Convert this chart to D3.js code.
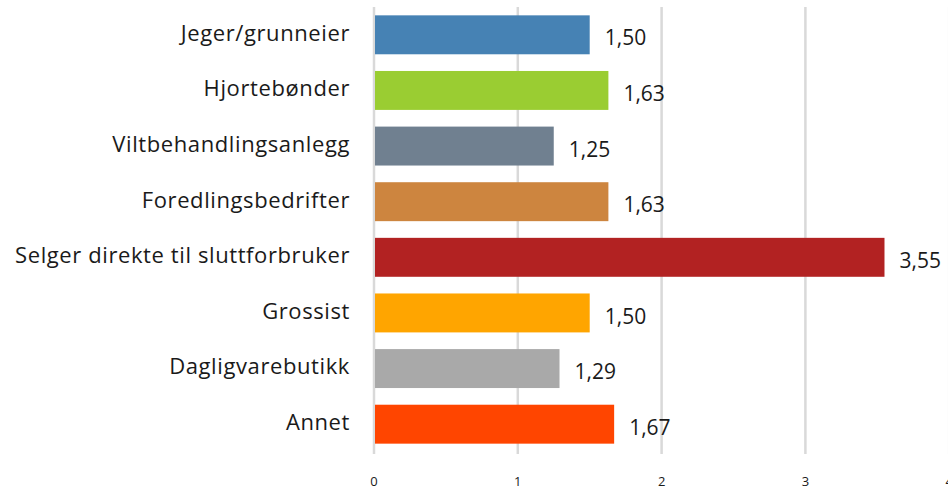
<!DOCTYPE html>
<html>
<head>
<meta charset="utf-8">
<script src="https://d3js.org/d3.v7.min.js"></script>
<style>
  body { margin: 0; background: #fff; }
  text { font-family: "Open Sans", sans-serif; fill: #1a1a1a; }
</style>
</head>
<body>
<div id="chart"></div>
<script>
// data
const categories = ["Jeger/grunneier", "Hjortebønder", "Viltbehandlingsanlegg", "Foredlingsbedrifter",
  "Selger direkte til sluttforbruker", "Grossist", "Dagligvarebutikk", "Annet"];
const values = [1.50, 1.63, 1.25, 1.63, 3.55, 1.50, 1.29, 1.67];
const barColors = ["#4682B4", "#9ACD32", "#708090", "#CD853F", "#B22222", "#FFA500", "#A9A9A9", "#FF4500"];
const xTicks = [0, 1, 2, 3, 4];

const width = 948, height = 494;
const margin = {top: 7, right: 0, bottom: 42, left: 374};

const svg = d3.select("#chart").append("svg")
  .attr("width", width)
  .attr("height", height);

const x = d3.scaleLinear().domain([0, 4]).range([margin.left, margin.left + 4 * 143.8]);
const y = d3.scaleBand().domain(categories)
  .range([margin.top, height - margin.bottom])
  .paddingInner(0.3).paddingOuter(0.15);

// gridlines
svg.append("g").selectAll("line")
  .data(xTicks)
  .enter().append("line")
    .attr("x1", d => x(d)).attr("x2", d => x(d))
    .attr("y1", margin.top).attr("y2", height - margin.bottom + 2)
    .style("stroke", "#d9d9d9")
    .style("stroke-width", 2.5);

// bars
svg.append("g").selectAll("rect")
  .data(values)
  .enter().append("rect")
    .attr("x", x(0) + 1)
    .attr("y", (d, i) => y(categories[i]))
    .attr("width", d => x(d) - x(0) - 1)
    .attr("height", y.bandwidth())
    .style("fill", (d, i) => barColors[i]);

// value labels
svg.append("g").selectAll("text")
  .data(values)
  .enter().append("text")
    .attr("x", d => x(d) + 15)
    .attr("y", (d, i) => y(categories[i]) + y.bandwidth() / 2 + 5)
    .attr("dominant-baseline", "middle")
    .attr("font-size", "21px")
    .text(d => d.toFixed(2).replace(".", ","));

// category labels
svg.append("g").selectAll("text")
  .data(categories)
  .enter().append("text")
    .attr("x", 350)
    .attr("y", d => y(d) + y.bandwidth() / 2)
    .attr("dominant-baseline", "middle")
    .attr("text-anchor", "end")
    .attr("font-size", "22px")
    .attr("letter-spacing", "0.6px")
    .text(d => d);

// x axis tick labels
svg.append("g").selectAll("text")
  .data(xTicks)
  .enter().append("text")
    .attr("x", d => x(d))
    .attr("y", 483)
    .attr("dominant-baseline", "middle")
    .attr("text-anchor", "middle")
    .attr("font-size", "13px")
    .text(d => d);
</script>
</body>
</html>
